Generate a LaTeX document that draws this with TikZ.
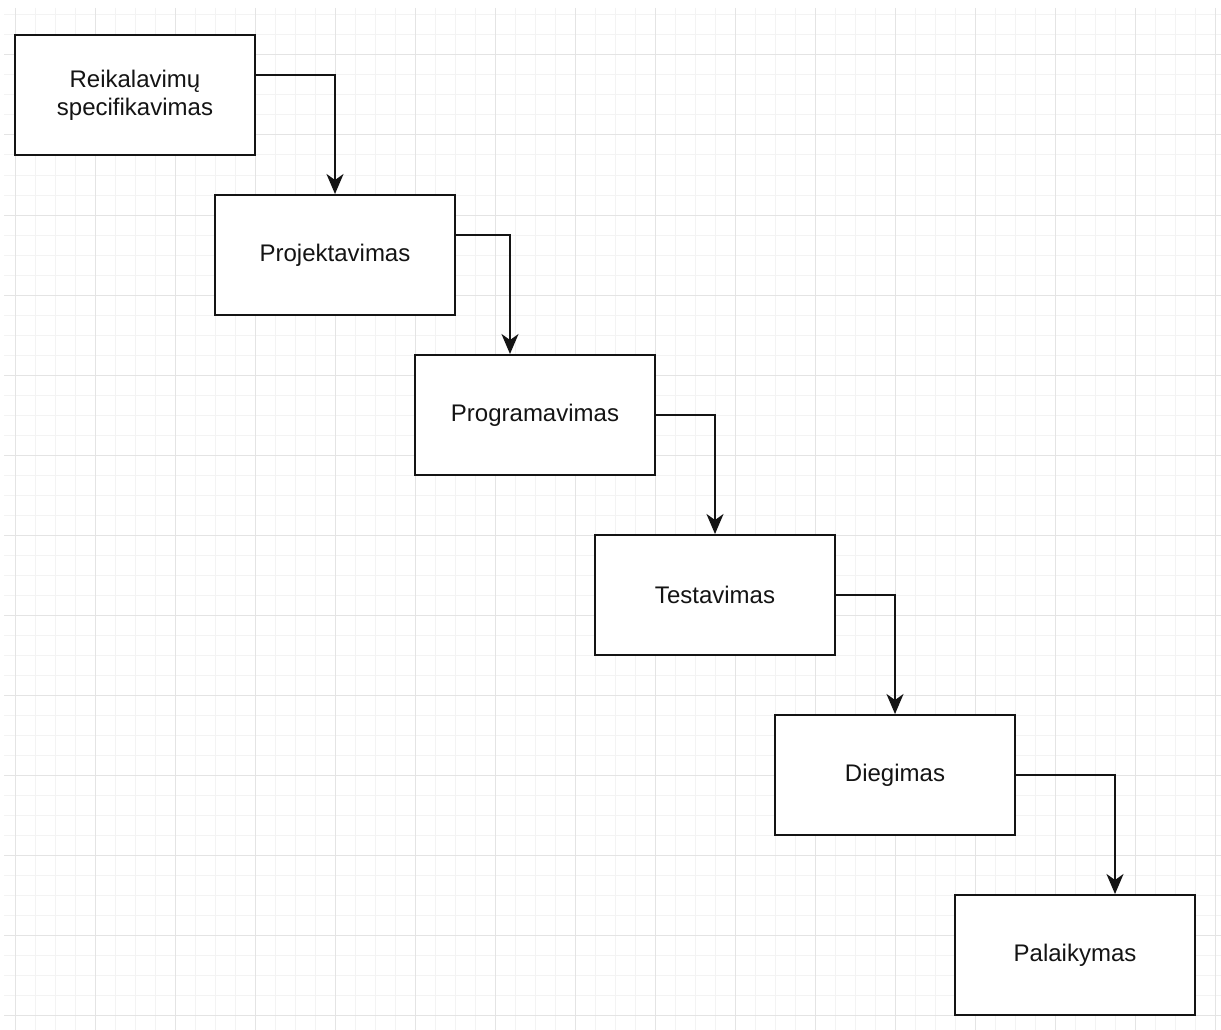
\documentclass[tikz,border=0pt]{standalone}
\usepackage{fontspec}
\setmainfont{Liberation Sans}
\usetikzlibrary{arrows.meta}
\definecolor{gridminor}{HTML}{F3F3F3}
\definecolor{gridmajor}{HTML}{E4E4E4}
\definecolor{ink}{HTML}{141414}
\begin{document}
\begin{tikzpicture}[x=1pt,y=-1pt,
  stage/.style={draw=ink, line width=2pt, fill=white, minimum width=240pt,
    minimum height=120pt, inner sep=0pt, align=center,
    font=\fontsize{24}{28}\selectfont, text=ink},
  flow/.style={draw=ink, line width=2pt,
    -{Stealth[length=20pt, width=17pt, inset=6pt]}}]
  % canvas
  \path[use as bounding box, fill=white] (0,0) rectangle (1221,1030);
  % paper grid
  \begin{scope}
    \clip (4,8) rectangle (1221,1030);
    \foreach \k in {0,...,60} {
      \pgfmathtruncatemacro{\m}{mod(\k,4)}
      \ifnum\m=0\relax\else
        \draw[gridminor, line width=1pt] (15+20*\k,8) -- (15+20*\k,1030);
      \fi
    }
    \foreach \k in {0,...,51} {
      \pgfmathtruncatemacro{\m}{mod(\k+2,4)}
      \ifnum\m=0\relax\else
        \draw[gridminor, line width=1pt] (4,15+20*\k) -- (1221,15+20*\k);
      \fi
    }
    \foreach \k in {0,4,...,60}
      \draw[gridmajor, line width=1pt] (15+20*\k,8) -- (15+20*\k,1030);
    \foreach \k in {2,6,...,50}
      \draw[gridmajor, line width=1pt] (4,15+20*\k) -- (1221,15+20*\k);
  \end{scope}
  % stages
  \node[stage] (req)  at (135,95)  {Reikalavimų\\specifikavimas};
  \node[stage] (proj) at (335,255) {Projektavimas};
  \node[stage] (prog) at (535,415) {Programavimas};
  \node[stage] (test) at (715,595) {Testavimas};
  \node[stage] (dep)  at (895,775) {Diegimas};
  \node[stage] (sup)  at (1075,955) {Palaikymas};
  % transitions
  \draw[flow] ([yshift=20pt]req.east) -| (proj.north);
  \draw[flow] ([yshift=20pt]proj.east) -| ([xshift=-25pt]prog.north);
  \draw[flow] (prog.east) -| (test.north);
  \draw[flow] (test.east) -| (dep.north);
  \draw[flow] (dep.east) -| ([xshift=40pt]sup.north);
\end{tikzpicture}
\end{document}
